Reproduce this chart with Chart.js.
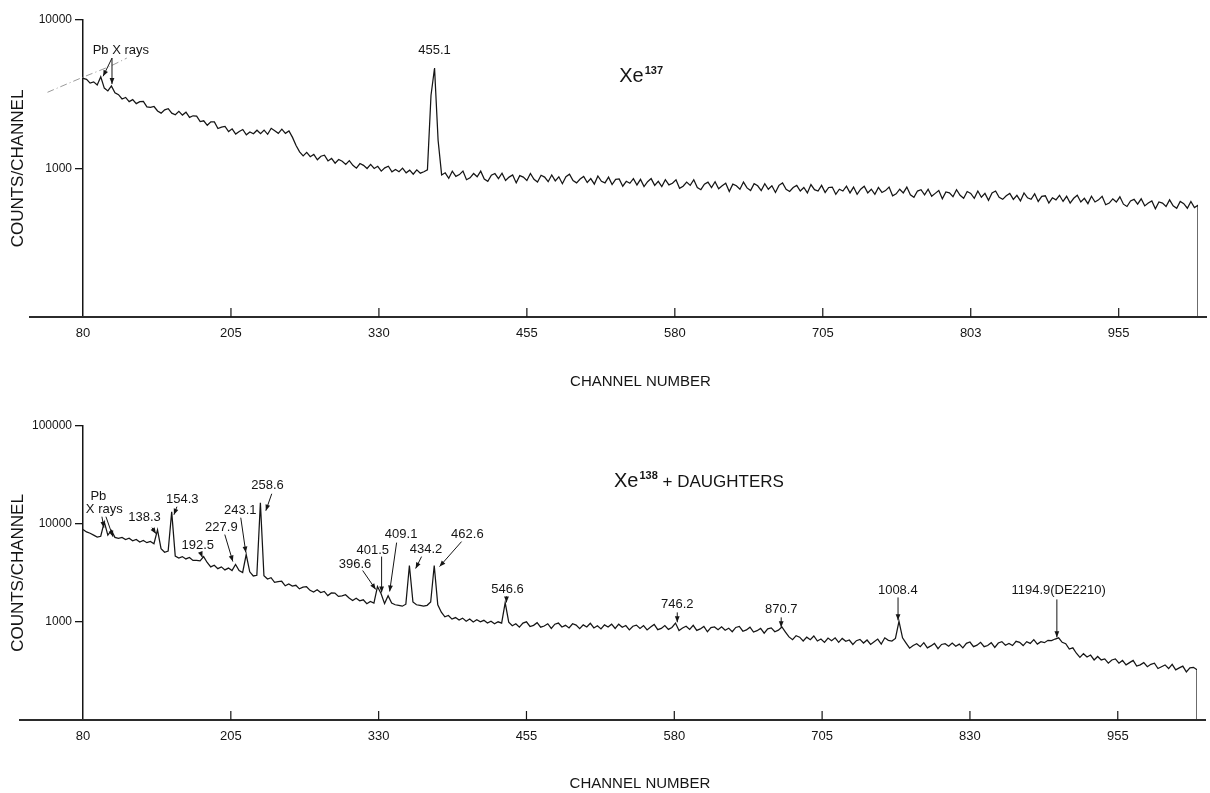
<!DOCTYPE html>
<html><head><meta charset="utf-8">
<script src="https://cdn.jsdelivr.net/npm/chart.js@4.4.1/dist/chart.umd.min.js"></script>
<style>
html,body{margin:0;padding:0;background:#fff;}
#wrap{position:relative;width:1210px;height:793px;overflow:hidden;}
.panel{position:absolute;left:0;width:1210px;}
#p1{top:0;height:400px;}
#p2{top:400px;height:393px;}
</style></head><body>
<div id="wrap">
<div class="panel" id="p1"><canvas id="c1"></canvas></div>
<div class="panel" id="p2"><canvas id="c2"></canvas></div>
</div>
<script>
// ---------- data ----------
const channelStart = 80;
const channelStep = 3;
const xTickValues = [80, 205, 330, 455, 580, 705, 830, 955];
const xTickLabelsTop = ['80', '205', '330', '455', '580', '705', '803', '955'];
const xTickLabelsBottom = ['80', '205', '330', '455', '580', '705', '830', '955'];
const yTicksTop = [1000, 10000];
const yTicksBottom = [1000, 10000, 100000];

// Xe-137 spectrum, counts per channel (channel 80, 83, 86, ...)
const xe137Counts = [
  4050,3980,3760,3830,3650,4150,3480,3330,3600,3240,
  3140,2940,3010,2820,2910,2735,2820,2830,2600,2580,
  2615,2440,2360,2485,2530,2360,2300,2425,2290,2395,
  2210,2265,2250,2070,2095,1955,2060,2060,1860,1900,
  1920,1775,1850,1705,1775,1830,1685,1760,1715,1810,
  1715,1815,1700,1865,1795,1725,1840,1725,1790,1620,
  1430,1295,1215,1285,1200,1245,1145,1210,1230,1125,
  1170,1085,1150,1120,1065,1130,1050,1005,1080,1050,
  1000,1065,1000,1035,960,1010,1035,950,985,950,
  1005,935,975,915,980,930,950,980,3100,4750,
  1550,905,935,860,960,885,910,960,840,865,
  925,880,960,850,820,900,925,855,930,830,
  875,905,800,895,875,830,925,845,810,900,
  875,815,905,825,880,790,880,915,830,800,
  850,885,805,855,785,890,820,800,875,780,
  845,850,760,820,795,855,775,845,755,815,
  855,770,820,755,840,775,795,840,735,760,
  810,770,840,745,720,785,810,745,815,730,
  765,795,700,785,765,725,810,740,710,790,
  765,710,790,725,765,690,770,800,725,700,
  745,770,705,745,685,780,720,705,770,690,
  745,750,670,725,705,760,685,750,670,725,
  760,685,725,670,745,690,710,750,655,675,
  725,685,750,665,640,705,720,665,725,650,
  680,710,625,695,685,645,720,660,630,700,
  680,630,705,640,680,610,685,705,640,620,
  655,680,620,660,605,685,635,620,675,600,
  650,655,585,635,615,660,600,650,585,630,
  660,595,630,580,650,595,615,650,570,585,
  625,595,645,575,555,605,620,575,625,560,
  585,605,535,595,585,555,615,560,540,600,
  580,540,600,545,565
];

// Xe-138 + daughters spectrum, counts per channel (channel 80, 83, 86, ...)
const xe138Counts = [
  8770,8300,8050,7700,7350,7500,10500,7700,8600,7300,
  7150,7300,6950,7150,6750,6950,6550,6800,6450,6650,
  6300,8700,5600,5150,5300,13300,4700,4500,4650,4400,
  4550,4250,4250,4200,4650,4050,3650,3800,3500,3650,
  3400,3550,3350,3860,3350,3200,4880,3250,2950,3000,
  16500,2970,2745,2830,2540,2585,2605,2340,2440,2325,
  2370,2180,2265,2290,2105,2020,2130,2000,2050,1860,
  1980,1975,1825,1850,1900,1755,1660,1750,1645,1685,
  1535,1620,1560,2300,1950,1540,1850,1560,1500,1480,
  1450,1520,3770,1600,1500,1480,1450,1480,1600,3770,
  1500,1260,1130,1165,1070,1110,1045,1095,1020,1075,
  1000,1055,1005,1040,975,1020,960,1005,975,1580,
  995,915,960,885,975,1005,900,925,985,885,
  910,960,860,950,975,890,925,870,960,930,
  855,935,890,970,870,915,850,935,890,950,
  860,950,885,920,830,905,930,860,920,830,
  890,945,835,860,920,840,880,975,820,870,
  905,840,925,820,850,900,795,875,890,835,
  895,825,865,795,880,900,805,830,885,790,
  815,860,770,850,870,795,825,890,790,705,
  660,725,700,640,700,660,720,640,670,620,
  685,645,690,620,680,635,655,590,645,665,
  610,655,590,630,670,595,690,650,640,680,
  1016,690,610,540,575,600,560,615,545,570,
  605,535,590,600,565,610,565,595,545,605,
  625,560,580,620,560,575,615,550,610,630,
  580,605,575,635,620,575,630,605,660,595,
  630,615,650,645,670,690,620,600,530,545,
  480,435,475,440,460,410,445,410,420,380,
  410,420,380,405,365,385,405,355,365,385,
  350,370,380,335,350,365,335,370,325,340,
  355,310,340,345,325
];

// faint dash-dot guide curve drawn on the Xe-137 record (channel, counts)
const xe137GuideChannels = [50, 80, 103, 117];
const xe137GuideCounts = [3260, 4120, 4890, 5540];

// annotation texts [text, channel, counts]
const topLabels = [
  ['455.1', 377, 6270],
  ['Pb X rays', 112, 6270]
];
const topArrows = [ // [fromCh, fromCounts, toCh, toCounts]
  [104.5, 5540, 97, 4180],
  [104.5, 5540, 104.5, 3700]
];
const bottomLabels = [
  ['Pb', 93, 18970],
  ['X rays', 98, 13990],
  ['138.3', 132, 11600],
  ['154.3', 164, 17680],
  ['192.5', 177, 6020],
  ['227.9', 197, 9180],
  ['243.1', 213, 13670],
  ['258.6', 236, 24530],
  ['396.6', 310, 3860],
  ['401.5', 325, 5355],
  ['409.1', 349, 7800],
  ['434.2', 370, 5480],
  ['462.6', 405, 7800],
  ['546.6', 439, 2149],
  ['746.2', 582.5, 1512],
  ['870.7', 670.4, 1345],
  ['1008.4', 769, 2100],
  ['1194.9(DE2210)', 905, 2100]
];
const bottomArrows = [
  [96, 11875, 97.7, 9180],
  [99.4, 11875, 105.3, 7430],
  [138.3, 9180, 141.7, 7975],
  [159.4, 15010, 156.9, 12440],
  [179.7, 4993, 181, 4550],
  [199.9, 7800, 206.7, 4140],
  [213.4, 11600, 217.7, 5110],
  [239.6, 20350, 234.6, 13670],
  [316.5, 3352, 327.5, 2149],
  [332.5, 4650, 332.5, 2003],
  [345.2, 6460, 339.3, 2050],
  [366.3, 4650, 361.3, 3513],
  [400.1, 6613, 381.5, 3680],
  [438.1, 1824, 438.1, 1585],
  [582.5, 1253, 582.5, 992],
  [670.4, 1115, 670.4, 883],
  [769.2, 1781, 769.2, 1040],
  [903.5, 1700, 903.5, 698]
];
const topTitle = {main: 'Xe', sup: '137', rest: '', ch: 533, counts: 4250};
const bottomTitle = {main: 'Xe', sup: '138', rest: ' + DAUGHTERS', ch: 529, counts: 28240};

// ---------- drawing ----------
const INK = '#151515';
const FONT = "'Liberation Sans', Arial, sans-serif";
Chart.defaults.font.family = FONT;
Chart.defaults.color = INK;

function toPoints(counts) {
  return counts.map((v, i) => ({x: channelStart + i * channelStep, y: v}));
}
function lastChannel(counts) { return channelStart + (counts.length - 1) * channelStep; }

function drawArrow(ctx, x1, y1, x2, y2) {
  ctx.beginPath(); ctx.moveTo(x1, y1); ctx.lineTo(x2, y2); ctx.stroke();
  const a = Math.atan2(y2 - y1, x2 - x1), L = 6, W = 2.4;
  ctx.beginPath();
  ctx.moveTo(x2, y2);
  ctx.lineTo(x2 - L * Math.cos(a) + W * Math.sin(a), y2 - L * Math.sin(a) - W * Math.cos(a));
  ctx.lineTo(x2 - L * Math.cos(a) - W * Math.sin(a), y2 - L * Math.sin(a) + W * Math.cos(a));
  ctx.closePath(); ctx.fill();
}

const decorPlugin = {
  id: 'decor',
  afterDatasetsDraw(chart, args, opts) {
    const {ctx, chartArea} = chart;
    const xs = chart.scales.x, ys = chart.scales.y;
    ctx.save();
    // extended baseline axis
    ctx.strokeStyle = '#2b2b2b';
    ctx.lineWidth = 2;
    ctx.beginPath();
    ctx.moveTo(chartArea.left - opts.extendLeft, chartArea.bottom);
    ctx.lineTo(chartArea.right + 9, chartArea.bottom);
    ctx.stroke();
    // inward tick marks
    ctx.lineWidth = 1.2;
    ctx.strokeStyle = INK;
    xTickValues.forEach(v => {
      if (v === channelStart) return;
      const px = xs.getPixelForValue(v);
      ctx.beginPath(); ctx.moveTo(px, chartArea.bottom); ctx.lineTo(px, chartArea.bottom - 9); ctx.stroke();
    });
    // labels
    ctx.fillStyle = INK;
    ctx.font = '13px ' + FONT;
    ctx.textAlign = 'center';
    ctx.textBaseline = 'middle';
    opts.labels.forEach(([t, c, v]) => ctx.fillText(t, xs.getPixelForValue(c), ys.getPixelForValue(v)));
    ctx.lineWidth = 1;
    opts.arrows.forEach(([c1, v1, c2, v2]) => drawArrow(ctx,
      xs.getPixelForValue(c1), ys.getPixelForValue(v1), xs.getPixelForValue(c2), ys.getPixelForValue(v2)));
    // title with superscript
    const t = opts.title;
    let px = xs.getPixelForValue(t.ch), py = ys.getPixelForValue(t.counts);
    ctx.textAlign = 'left';
    ctx.textBaseline = 'alphabetic';
    ctx.font = '20px ' + FONT;
    ctx.fillText(t.main, px, py + 7);
    px += ctx.measureText(t.main).width + 1;
    ctx.font = 'bold 11px ' + FONT;
    ctx.fillText(t.sup, px, py - 1);
    px += ctx.measureText(t.sup).width;
    if (t.rest) {
      ctx.font = '17px ' + FONT;
      ctx.fillText(t.rest, px, py + 7);
    }
    ctx.restore();
  }
};

function makeChart(canvasId, counts, yMin, yMax, yTicks, xLabels, cfg) {
  const pts = toPoints(counts);
  const endCh = lastChannel(counts);
  pts.push({x: endCh, y: yMin});
  const datasets = [{
    data: pts, borderColor: INK, borderWidth: 1.25, pointRadius: 0, tension: 0, fill: false
  }];
  if (cfg.guide) {
    datasets.push({
      data: cfg.guide.ch.map((c, i) => ({x: c, y: cfg.guide.counts[i]})),
      borderColor: '#9a9a9a', borderWidth: 1, borderDash: [7, 3, 1, 3], pointRadius: 0,
      tension: 0.3, clip: false
    });
  }
  return new Chart(document.getElementById(canvasId), {
    type: 'line',
    data: {datasets},
    plugins: [decorPlugin],
    options: {
      responsive: true, maintainAspectRatio: false, animation: false,
      layout: {padding: {top: cfg.padTop, right: cfg.padRight, left: 0, bottom: 0}},
      plugins: {
        legend: {display: false}, tooltip: {enabled: false},
        decor: {labels: cfg.labels, arrows: cfg.arrows, title: cfg.title, extendLeft: cfg.extendLeft}
      },
      scales: {
        x: {
          type: 'linear', min: channelStart, max: endCh,
          afterBuildTicks: s => { s.ticks = xTickValues.map(v => ({value: v})); },
          afterFit: s => { s.height = cfg.xHeight; },
          grid: {display: false, drawTicks: false},
          border: {display: false},
          ticks: {
            autoSkip: false, maxRotation: 0, padding: 9, color: INK,
            font: {size: 13, family: "'Liberation Sans Narrow', 'Liberation Sans', sans-serif"},
            callback: (v, i) => xLabels[i]
          },
          title: {display: true, text: 'CHANNEL NUMBER', color: INK,
            font: {size: 15, family: "'Liberation Sans Narrow', 'Liberation Sans', sans-serif"},
            padding: {top: 0, bottom: cfg.xTitlePad}}
        },
        y: {
          type: 'logarithmic', min: yMin, max: yMax,
          afterBuildTicks: s => { s.ticks = yTicks.map(v => ({value: v})); },
          afterFit: s => { s.width = 83; },
          grid: {display: true, drawOnChartArea: false, drawTicks: true, tickLength: 8, color: INK, lineWidth: 1.3},
          border: {display: true, color: INK, width: 1.5},
          ticks: {padding: 3, color: INK, font: {size: 12}, callback: v => String(v)},
          title: {display: true, text: 'COUNTS/CHANNEL', color: INK, font: {size: 17}, padding: {top: 8, bottom: 0}}
        }
      }
    }
  });
}

makeChart('c1', xe137Counts, 100, 10000, yTicksTop, xTickLabelsTop, {
  padTop: 20, padRight: 12, xHeight: 83, xTitlePad: 9, extendLeft: 54,
  labels: topLabels, arrows: topArrows, title: topTitle,
  guide: {ch: xe137GuideChannels, counts: xe137GuideCounts}
});
makeChart('c2', xe138Counts, 100, 100000, yTicksBottom, xTickLabelsBottom, {
  padTop: 26, padRight: 13, xHeight: 73, xTitlePad: 0, extendLeft: 64,
  labels: bottomLabels, arrows: bottomArrows, title: bottomTitle
});
</script>
</body></html>
